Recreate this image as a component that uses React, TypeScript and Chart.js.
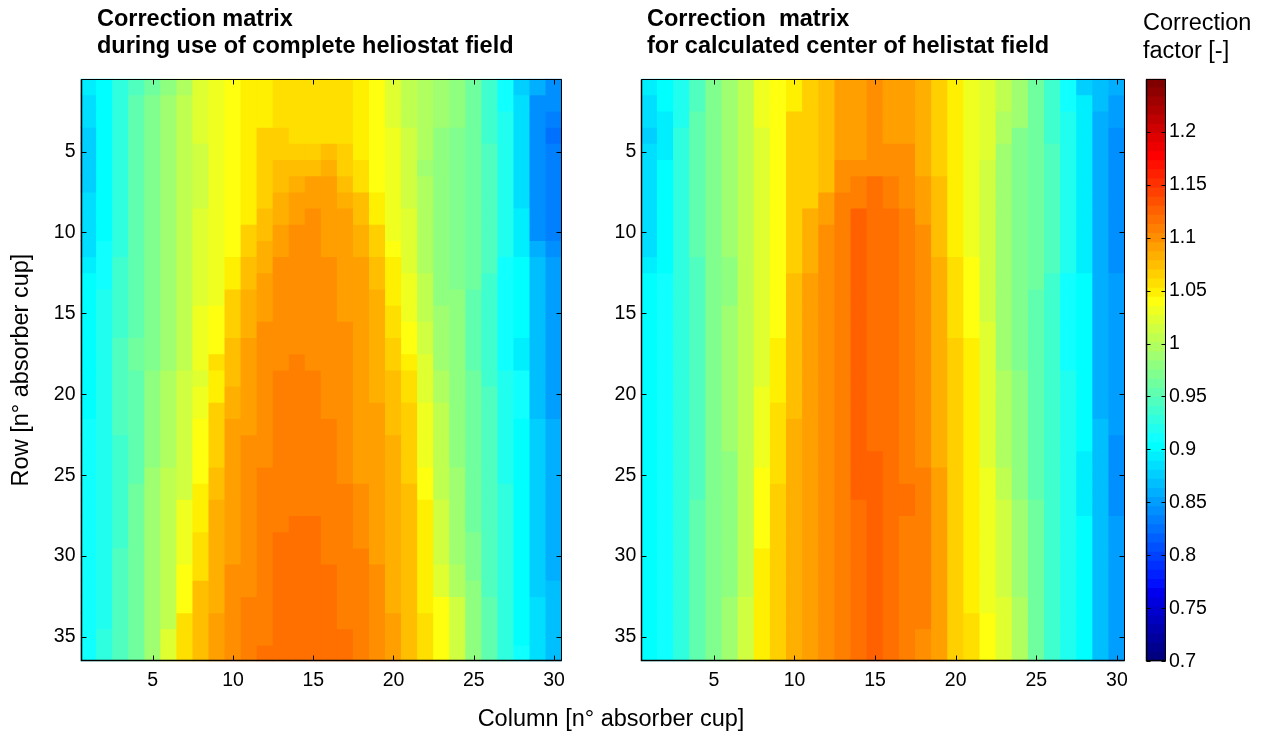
import React, { useEffect, useRef } from "react";
import { Chart, registerables } from "chart.js";

Chart.register(...registerables);

const FONT = "'Liberation Sans', Arial, Helvetica, sans-serif";
const TICK_SIZE = 19.5;
const LABEL_SIZE = 23.5;

// ---------- categories & ticks ----------
const COLUMNS = [1, 2, 3, 4, 5, 6, 7, 8, 9, 10, 11, 12, 13, 14, 15, 16, 17, 18, 19, 20, 21, 22, 23, 24, 25, 26, 27, 28, 29, 30];
const ROWS = [1, 2, 3, 4, 5, 6, 7, 8, 9, 10, 11, 12, 13, 14, 15, 16, 17, 18, 19, 20, 21, 22, 23, 24, 25, 26, 27, 28, 29, 30, 31, 32, 33, 34, 35, 36];
const X_TICKS = [5, 10, 15, 20, 25, 30];
const Y_TICKS = [5, 10, 15, 20, 25, 30, 35];
const CBAR_TICKS = [0.7, 0.75, 0.8, 0.85, 0.9, 0.95, 1, 1.05, 1.1, 1.15, 1.2];
const CBAR_MIN = 0.7;
const CBAR_MAX = 1.25;
const CMAP_LEVELS = 64;

// ---------- texts ----------
const LEFT_TITLE = "Correction matrix\nduring use of complete heliostat field";
const RIGHT_TITLE = "Correction  matrix\nfor calculated center of helistat field";
const CBAR_TITLE = "Correction\nfactor [-]";
const X_LABEL = "Column [n\u00B0 absorber cup]";
const Y_LABEL = "Row [n\u00B0 absorber cup]";

// ---------- data: per column, runs of [last row of run, correction factor] ----------
const FULL_FIELD_COLUMNS: [number, number][][] = [
  [[1, 0.893], [3, 0.885], [7, 0.876], [11, 0.885], [12, 0.893], [21, 0.902], [36, 0.91]],
  [[10, 0.902], [13, 0.91], [34, 0.919], [36, 0.928]],
  [[11, 0.928], [16, 0.936], [22, 0.945], [29, 0.936], [36, 0.945]],
  [[1, 0.945], [16, 0.953], [18, 0.962], [25, 0.953], [36, 0.962]],
  [[1, 0.962], [18, 0.971], [24, 0.979], [36, 0.988]],
  [[1, 0.979], [18, 0.988], [24, 0.996], [34, 1.005], [36, 1.022]],
  [[1, 0.996], [18, 1.005], [26, 1.014], [30, 1.031], [33, 1.039], [36, 1.057]],
  [[4, 1.022], [8, 1.014], [14, 1.022], [18, 1.031], [19, 1.022], [21, 1.031], [25, 1.039], [28, 1.048], [31, 1.057], [36, 1.074]],
  [[14, 1.031], [17, 1.039], [18, 1.057], [20, 1.048], [24, 1.065], [26, 1.074], [33, 1.082], [36, 1.091]],
  [[11, 1.039], [13, 1.048], [16, 1.065], [19, 1.074], [21, 1.082], [30, 1.091], [36, 1.1]],
  [[9, 1.048], [11, 1.065], [13, 1.074], [16, 1.082], [22, 1.091], [32, 1.1], [36, 1.108]],
  [[3, 1.048], [8, 1.065], [10, 1.074], [12, 1.082], [15, 1.091], [24, 1.1], [35, 1.108], [36, 1.117]],
  [[3, 1.057], [5, 1.065], [7, 1.074], [9, 1.082], [11, 1.091], [18, 1.1], [28, 1.108], [36, 1.117]],
  [[4, 1.057], [5, 1.065], [6, 1.074], [7, 1.082], [9, 1.091], [17, 1.1], [27, 1.108], [36, 1.117]],
  [[4, 1.057], [5, 1.065], [6, 1.074], [8, 1.091], [18, 1.1], [27, 1.108], [36, 1.117]],
  [[4, 1.057], [5, 1.074], [6, 1.082], [11, 1.091], [21, 1.1], [30, 1.108], [36, 1.117]],
  [[4, 1.057], [6, 1.065], [7, 1.074], [8, 1.082], [15, 1.091], [25, 1.1], [34, 1.108], [36, 1.117]],
  [[5, 1.048], [7, 1.057], [9, 1.074], [11, 1.082], [25, 1.091], [29, 1.1], [36, 1.108]],
  [[7, 1.039], [9, 1.048], [11, 1.065], [13, 1.074], [20, 1.082], [30, 1.091], [36, 1.1]],
  [[3, 1.022], [10, 1.031], [11, 1.039], [14, 1.048], [16, 1.057], [18, 1.065], [22, 1.074], [33, 1.082], [36, 1.091]],
  [[3, 1.005], [8, 1.014], [12, 1.022], [15, 1.031], [17, 1.039], [18, 1.048], [20, 1.057], [25, 1.065], [36, 1.074]],
  [[5, 0.996], [6, 0.988], [12, 0.996], [15, 1.005], [17, 1.014], [20, 1.022], [24, 1.031], [26, 1.039], [33, 1.048], [36, 1.057]],
  [[3, 0.988], [14, 0.979], [18, 0.988], [20, 0.996], [26, 1.005], [30, 1.014], [32, 1.022], [36, 1.039]],
  [[3, 0.979], [13, 0.971], [24, 0.979], [30, 0.988], [32, 0.996], [36, 1.014]],
  [[13, 0.962], [18, 0.953], [28, 0.962], [31, 0.971], [36, 0.979]],
  [[4, 0.936], [12, 0.945], [19, 0.936], [32, 0.945], [36, 0.953]],
  [[2, 0.91], [11, 0.919], [18, 0.91], [25, 0.919], [36, 0.928]],
  [[1, 0.876], [8, 0.885], [11, 0.893], [16, 0.902], [18, 0.893], [21, 0.91], [35, 0.902], [36, 0.91]],
  [[1, 0.859], [10, 0.842], [11, 0.859], [21, 0.868], [32, 0.876], [36, 0.885]],
  [[2, 0.842], [3, 0.833], [4, 0.825], [10, 0.833], [11, 0.842], [21, 0.85], [31, 0.859], [36, 0.868]],
];

const CENTER_FIELD_COLUMNS: [number, number][][] = [
  [[1, 0.893], [3, 0.885], [4, 0.876], [11, 0.885], [12, 0.893], [36, 0.902]],
  [[2, 0.902], [5, 0.893], [12, 0.902], [36, 0.91]],
  [[3, 0.919], [36, 0.928]],
  [[2, 0.945], [11, 0.953], [26, 0.945], [36, 0.953]],
  [[36, 0.971]],
  [[11, 0.988], [14, 0.979], [23, 0.988], [32, 0.979], [36, 0.988]],
  [[32, 1.005], [36, 1.014]],
  [[3, 1.031], [19, 1.022], [24, 1.031], [29, 1.039], [36, 1.048]],
  [[16, 1.039], [20, 1.048], [25, 1.057], [36, 1.065]],
  [[2, 1.048], [12, 1.065], [21, 1.074], [36, 1.082]],
  [[8, 1.065], [12, 1.082], [36, 1.091]],
  [[7, 1.074], [9, 1.091], [36, 1.1]],
  [[5, 1.091], [7, 1.1], [36, 1.108]],
  [[5, 1.091], [6, 1.1], [8, 1.108], [26, 1.125], [36, 1.117]],
  [[6, 1.1], [23, 1.117], [36, 1.125]],
  [[4, 1.091], [6, 1.1], [8, 1.108], [36, 1.117]],
  [[4, 1.091], [8, 1.1], [25, 1.108], [27, 1.117], [36, 1.108]],
  [[6, 1.082], [9, 1.091], [24, 1.1], [34, 1.108], [36, 1.1]],
  [[6, 1.065], [11, 1.074], [24, 1.082], [36, 1.091]],
  [[11, 1.048], [16, 1.057], [36, 1.065]],
  [[11, 1.031], [16, 1.039], [33, 1.048], [36, 1.057]],
  [[5, 1.022], [15, 1.014], [24, 1.022], [33, 1.031], [36, 1.039]],
  [[2, 1.005], [4, 0.996], [18, 0.988], [24, 0.996], [26, 1.005], [32, 1.014], [36, 1.022]],
  [[3, 0.988], [18, 0.971], [26, 0.979], [32, 0.988], [36, 0.996]],
  [[13, 0.962], [26, 0.953], [36, 0.962]],
  [[4, 0.936], [12, 0.945], [36, 0.936]],
  [[2, 0.91], [12, 0.919], [18, 0.91], [36, 0.919]],
  [[1, 0.876], [12, 0.893], [23, 0.902], [27, 0.893], [36, 0.902]],
  [[2, 0.868], [21, 0.859], [36, 0.868]],
  [[1, 0.859], [3, 0.85], [12, 0.842], [22, 0.85], [27, 0.842], [36, 0.85]],
];

// ---------- helpers ----------
function valueAt(runs: [number, number][], row: number): number {
  for (const [last, v] of runs) if (row <= last) return v;
  return runs[runs.length - 1][1];
}

// MATLAB jet(64) colormap, scaled to [CBAR_MIN, CBAR_MAX]
function jetColor(v: number): string {
  let i = Math.floor(((v - CBAR_MIN) / (CBAR_MAX - CBAR_MIN)) * CMAP_LEVELS) + 1;
  i = Math.max(1, Math.min(CMAP_LEVELS, i));
  const ramp = (k: number) => (k < 1 || k > 47 ? 0 : k <= 16 ? k / 16 : k <= 31 ? 1 : (48 - k) / 16);
  const r = ramp(i - 24), g = ramp(i - 8), b = ramp(i + 7);
  return `rgb(${Math.round(r * 255)},${Math.round(g * 255)},${Math.round(b * 255)})`;
}

const framePlugin = {
  id: "frame",
  afterDatasetsDraw(chart: any, _args: any, opts: any) {
    const { ctx, chartArea: a } = chart;
    const len = opts.len || 5;
    const L = Math.round(a.left) + 0.5;
    const R = Math.round(a.right) - 0.5;
    const T = Math.round(a.top) + 0.5;
    const B = Math.round(a.bottom) - 0.5;
    ctx.save();
    ctx.strokeStyle = "#000";
    ctx.lineWidth = 1;
    ctx.beginPath();
    if (opts.xTicks) {
      const xs = chart.scales.x;
      for (const t of xs.ticks) {
        const px = Math.round(xs.getPixelForValue(t.value)) + 0.5;
        ctx.moveTo(px, B); ctx.lineTo(px, B - len);
        ctx.moveTo(px, T); ctx.lineTo(px, T + len);
      }
    }
    const ys = chart.scales.y;
    for (const t of ys.ticks) {
      const py = Math.round(ys.getPixelForValue(t.value)) + 0.5;
      ctx.moveTo(L, py); ctx.lineTo(L + len, py);
      ctx.moveTo(R, py); ctx.lineTo(R - len, py);
    }
    ctx.rect(L, T, R - L, B - T);
    ctx.stroke();
    // slightly heavier bottom/left axis lines
    ctx.beginPath();
    ctx.lineWidth = 1.5;
    ctx.moveTo(L, T); ctx.lineTo(L, B); ctx.lineTo(R, B);
    ctx.stroke();
    ctx.restore();
  },
};

const CANVAS_H = 735;
const AREA_TOP = 78.7;
const AREA_BOTTOM = 661.3;

function heatmapConfig(columns: [number, number][][], yAxisWidth: number, padRight: number, showYTitle: boolean): any {
  const datasets = ROWS.map((r) => ({
    data: COLUMNS.map((c) => ({ x: c, y: [r - 0.5, r + 0.5] })),
    backgroundColor: COLUMNS.map((c) => jetColor(valueAt(columns[c - 1], r))),
    borderWidth: 0,
    barPercentage: 1,
    categoryPercentage: 1,
    grouped: false,
    inflateAmount: 0.4,
  }));
  return {
    type: "bar",
    data: { datasets },
    plugins: [framePlugin],
    options: {
      responsive: false,
      animation: false,
      events: [],
      layout: { padding: { left: 0, right: padRight, top: AREA_TOP, bottom: 0 } },
      plugins: {
        legend: { display: false },
        tooltip: { enabled: false },
        title: { display: false },
        frame: { xTicks: true, len: 5 },
      },
      scales: {
        x: {
          type: "linear",
          min: 0.5,
          max: 30.5,
          offset: false,
          grid: { display: false, drawTicks: false },
          border: { display: false },
          afterBuildTicks: (s: any) => { s.ticks = X_TICKS.map((v) => ({ value: v })); },
          afterFit: (s: any) => { s.height = CANVAS_H - AREA_BOTTOM; },
          ticks: { font: { family: FONT, size: TICK_SIZE }, color: "#000", padding: 8, maxRotation: 0, autoSkip: false },
        },
        y: {
          type: "linear",
          reverse: true,
          min: 0.5,
          max: 36.5,
          grid: { display: false, drawTicks: false },
          border: { display: false },
          afterBuildTicks: (s: any) => { s.ticks = Y_TICKS.map((v) => ({ value: v })); },
          afterFit: (s: any) => { s.width = yAxisWidth; },
          ticks: { font: { family: FONT, size: TICK_SIZE }, color: "#000", padding: 5, autoSkip: false },
          title: {
            display: showYTitle,
            text: Y_LABEL,
            color: "#000",
            font: { family: FONT, size: LABEL_SIZE },
            padding: { top: 7, bottom: 0 },
          },
        },
      },
    },
  };
}

function colorbarConfig(): any {
  const step = (CBAR_MAX - CBAR_MIN) / CMAP_LEVELS;
  const levels = Array.from({ length: CMAP_LEVELS }, (_, k) => CBAR_MIN + k * step);
  const datasets = levels.map((lo) => ({
    data: [[lo, lo + step]],
    backgroundColor: jetColor(lo + step / 2),
    borderWidth: 0,
    barPercentage: 1,
    categoryPercentage: 1,
    grouped: false,
    inflateAmount: 0.4,
  }));
  return {
    type: "bar",
    data: { labels: [""], datasets },
    plugins: [framePlugin],
    options: {
      responsive: false,
      animation: false,
      events: [],
      layout: { padding: { left: 16, right: 0, top: AREA_TOP, bottom: CANVAS_H - AREA_BOTTOM } },
      plugins: {
        legend: { display: false },
        tooltip: { enabled: false },
        frame: { xTicks: false, len: 4 },
      },
      scales: {
        x: { display: false },
        y: {
          type: "linear",
          position: "right",
          min: CBAR_MIN,
          max: CBAR_MAX,
          grid: { display: false, drawTicks: false },
          border: { display: false },
          afterBuildTicks: (s: any) => { s.ticks = CBAR_TICKS.map((v) => ({ value: v })); },
          afterFit: (s: any) => { s.width = 100; },
          ticks: {
            font: { family: FONT, size: TICK_SIZE },
            color: "#000",
            padding: 3,
            callback: (v: any) => String(+Number(v).toFixed(2)),
          },
        },
      },
    },
  };
}

const textBase: React.CSSProperties = {
  position: "absolute",
  fontFamily: FONT,
  color: "#000",
  whiteSpace: "pre",
  margin: 0,
};

export default function App() {
  const leftRef = useRef<HTMLCanvasElement>(null);
  const rightRef = useRef<HTMLCanvasElement>(null);
  const cbarRef = useRef<HTMLCanvasElement>(null);

  useEffect(() => {
    const charts: Chart[] = [];
    if (leftRef.current) charts.push(new Chart(leftRef.current, heatmapConfig(FULL_FIELD_COLUMNS, 80.5, 38, true)));
    if (rightRef.current) charts.push(new Chart(rightRef.current, heatmapConfig(CENTER_FIELD_COLUMNS, 61.3, 15, false)));
    if (cbarRef.current) charts.push(new Chart(cbarRef.current, colorbarConfig()));
    return () => charts.forEach((c) => c.destroy());
  }, []);

  return (
    <div style={{ position: "absolute", left: 0, top: 0, width: 1266, height: 735, background: "#fff", overflow: "hidden" }}>
      <canvas ref={leftRef} width={600} height={CANVAS_H} style={{ position: "absolute", left: 0, top: 0 }} />
      <canvas ref={rightRef} width={560} height={CANVAS_H} style={{ position: "absolute", left: 580, top: 0 }} />
      <canvas ref={cbarRef} width={136} height={CANVAS_H} style={{ position: "absolute", left: 1130, top: 0 }} />
      <div style={{ ...textBase, left: 97, top: 5.2, fontSize: LABEL_SIZE, fontWeight: "bold", lineHeight: "26.7px" }}>{LEFT_TITLE}</div>
      <div style={{ ...textBase, left: 647, top: 5.2, fontSize: LABEL_SIZE, fontWeight: "bold", lineHeight: "26.7px" }}>{RIGHT_TITLE}</div>
      <div style={{ ...textBase, left: 1143, top: 8.3, fontSize: LABEL_SIZE, lineHeight: "28px" }}>{CBAR_TITLE}</div>
      <div style={{ ...textBase, left: 311, width: 600, top: 704.3, fontSize: LABEL_SIZE, lineHeight: "28px", textAlign: "center" }}>{X_LABEL}</div>
    </div>
  );
}
